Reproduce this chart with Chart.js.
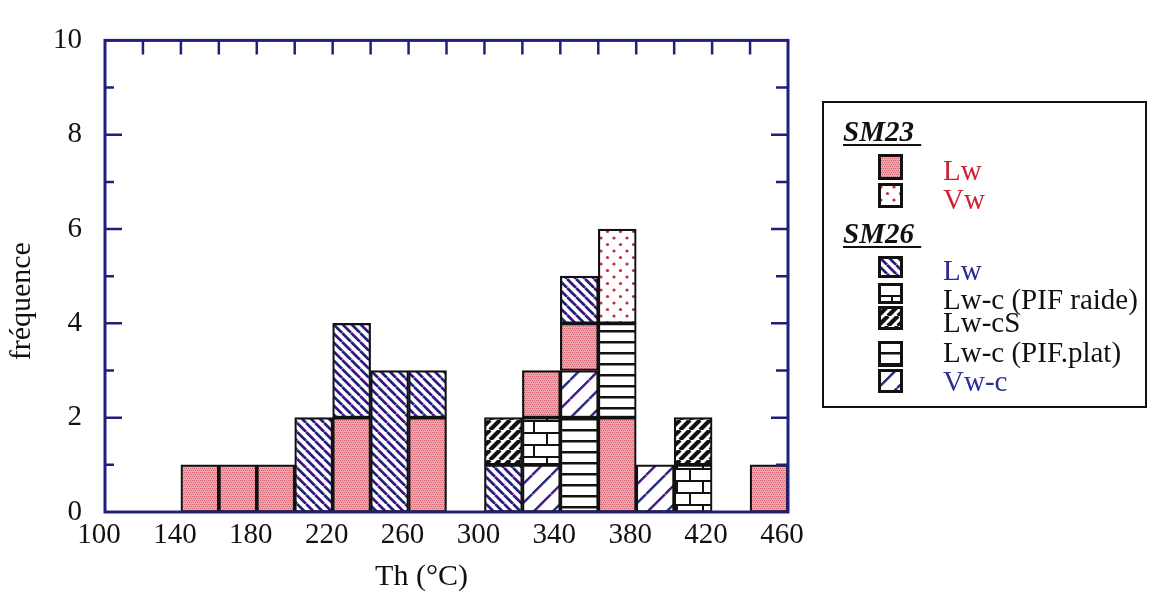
<!DOCTYPE html>
<html>
<head>
<meta charset="utf-8">
<script src="https://cdn.jsdelivr.net/npm/chart.js@4.4.1/dist/chart.umd.min.js"></script>
<style>
html,body{margin:0;padding:0;background:#fff;}
#wrap{position:relative;width:1154px;height:594px;}
#legend{position:absolute;left:822px;top:101px;width:321px;height:303px;border:2px solid #111;
  font-family:"Liberation Serif","Times New Roman",serif;font-size:29px;color:#111;}
.t{position:absolute;white-space:nowrap;line-height:32px;height:32px;}
.h{font-weight:bold;font-style:italic;text-decoration:underline;text-decoration-thickness:2px;text-underline-offset:3px;}
.sw{position:absolute;display:block;}
</style>
</head>
<body>
<div id="wrap">
  <canvas id="c"></canvas>
  <div id="legend"></div>
</div>
<script>
// ---- data ----
const binStarts = [100,120,140,160,180,200,220,240,260,280,300,320,340,360,380,400,420,440];
const sm23Lw      = [0,0,1,1,1,0,2,0,2,0,0,1,1,2,0,0,0,1];
const sm23Vw      = [0,0,0,0,0,0,0,0,0,0,0,0,0,2,0,0,0,0];
const sm26Lw      = [0,0,0,0,0,2,2,3,1,0,1,0,1,0,0,0,0,0];
const sm26LwcRaide= [0,0,0,0,0,0,0,0,0,0,0,1,0,0,0,1,0,0];
const sm26LwcS    = [0,0,0,0,0,0,0,0,0,0,1,0,0,0,0,1,0,0];
const sm26LwcPlat = [0,0,0,0,0,0,0,0,0,0,0,0,2,2,0,0,0,0];
const sm26Vwc     = [0,0,0,0,0,0,0,0,0,0,0,1,1,0,1,0,0,0];
// stacking order in each bin, bottom to top (as drawn in the figure)
const stackOrder = [
  [],[],['sm23Lw'],['sm23Lw'],['sm23Lw'],['sm26Lw'],['sm23Lw','sm26Lw'],['sm26Lw'],
  ['sm23Lw','sm26Lw'],[],['sm26Lw','lwcS'],['vwc','lwcRaide','sm23Lw'],
  ['lwcPlat','vwc','sm23Lw','sm26Lw'],['sm23Lw','lwcPlat','sm23Vw'],['vwc'],
  ['lwcRaide','lwcS'],[],['sm23Lw']
];
const xTickValues = [100,140,180,220,260,300,340,380,420,460];
const xTopTicks   = [120,140,160,180,200,220,240,260,280,300,320,340,360,380,400,420,440];
const yTickValues = [0,2,4,6,8,10];
const yMajorInner = [2,4,6,8];
const yMinorInner = [1,3,5,7,9];
const xTitle = 'Th (°C)';
const yTitle = 'fréquence';

const series = {sm23Lw, sm23Vw, sm26Lw, lwcRaide: sm26LwcRaide, lwcS: sm26LwcS, lwcPlat: sm26LwcPlat, vwc: sm26Vwc};

// ---- patterns ----
const NAVY = '#20207c';
const MAG = '#c76ad0';
function tile(w, h, draw){
  const c = document.createElement('canvas'); c.width = w; c.height = h;
  const g = c.getContext('2d'); g.fillStyle = '#fff'; g.fillRect(0,0,w,h); draw(g,w,h);
  return c;
}
function diag(g, s, dir, color, lw, off){
  g.strokeStyle = color; g.lineWidth = lw; g.beginPath();
  for (let k=-2;k<=2;k++){
    if (dir === '\\'){ g.moveTo(k*s+off, 0); g.lineTo(k*s+s+off, s); }
    else { g.moveTo(k*s+off, s); g.lineTo(k*s+s+off, 0); }
  }
  g.stroke();
}
const tiles = {
  sm23Lw: tile(4,4,(g)=>{ g.fillStyle='#eea6b0'; g.fillRect(0,0,4,4); g.fillStyle='#d4606f';
    g.fillRect(0,0,1,1); g.fillRect(2,0,1,1); g.fillRect(1,2,1,1); g.fillRect(3,2,1,1); }),
  sm23Vw: tile(13,13,(g)=>{ g.fillStyle='#c42a40'; g.beginPath(); g.arc(3,4,1.6,0,7); g.fill();
    g.beginPath(); g.arc(9.5,10.5,1.6,0,7); g.fill(); }),
  sm26Lw: tile(9,9,(g,s)=>{ diag(g,9,'\\',MAG,1,2); diag(g,9,'\\',NAVY,2.4,0); }),
  lwcRaide: tile(26,24,(g)=>{ g.fillStyle='#111'; g.fillRect(0,0,26,2); g.fillRect(0,12,26,2);
    g.fillRect(0,0,2,12); g.fillRect(13,12,2,12); }),
  lwcS: tile(10,10,(g)=>{ diag(g,10,'/','#111',4.2,0); }),
  lwcPlat: tile(4,11,(g)=>{ g.fillStyle='#111'; g.fillRect(0,0,4,2.5); }),
  vwc: tile(19,19,(g)=>{ diag(g,19,'/',MAG,1,1.8); diag(g,19,'/',NAVY,2,0); })
};
function pat(ctx, key){ return ctx.createPattern(tiles[key], 'repeat'); }

// ---- chart ----
const canvas = document.getElementById('c');
const ctx0 = canvas.getContext('2d');
const nLayers = Math.max(...stackOrder.map(s=>s.length));
const datasets = [];
for (let k=0;k<nLayers;k++){
  datasets.push({
    data: binStarts.map((b,i)=>({x: b+10, y: stackOrder[i][k] ? series[stackOrder[i][k]][i] : null})),
    backgroundColor: binStarts.map((b,i)=> stackOrder[i][k] ? pat(ctx0, stackOrder[i][k]) : 'rgba(0,0,0,0)'),
    borderColor: '#111',
    borderWidth: 2.2,
    borderSkipped: false,
    barPercentage: 1,
    categoryPercentage: 1
  });
}

Chart.defaults.font.family = '"Liberation Serif","Times New Roman",serif';
Chart.defaults.font.size = 29;
Chart.defaults.color = '#111';

const framePlugin = {
  id: 'frame',
  afterDatasetsDraw(chart){
    const {ctx, chartArea:a, scales:{x,y}} = chart;
    ctx.save();
    ctx.strokeStyle = NAVY; ctx.lineWidth = 2.5; ctx.lineCap = 'butt';
    ctx.beginPath();
    xTopTicks.forEach(v=>{ const p = x.getPixelForValue(v); ctx.moveTo(p,a.top); ctx.lineTo(p,a.top+14); });
    yMajorInner.forEach(v=>{ const p = y.getPixelForValue(v);
      ctx.moveTo(a.left,p); ctx.lineTo(a.left+17,p); ctx.moveTo(a.right,p); ctx.lineTo(a.right-17,p); });
    yMinorInner.forEach(v=>{ const p = y.getPixelForValue(v);
      ctx.moveTo(a.left,p); ctx.lineTo(a.left+9,p); ctx.moveTo(a.right,p); ctx.lineTo(a.right-12,p); });
    ctx.stroke();
    ctx.lineWidth = 3;
    ctx.strokeRect(a.left, a.top, a.right-a.left, a.bottom-a.top);
    // axis titles
    ctx.fillStyle = '#111';
    ctx.font = '30px "Liberation Serif","Times New Roman",serif';
    ctx.textAlign = 'center'; ctx.textBaseline = 'middle';
    ctx.fillText(xTitle, (a.left+a.right)/2 - 25, a.bottom + 65);
    ctx.translate(22, (a.top+a.bottom)/2 + 25);
    ctx.rotate(-Math.PI/2);
    ctx.fillText(yTitle, 0, 0);
    ctx.restore();
  }
};

new Chart(canvas, {
  type: 'bar',
  data: { datasets },
  options: {
    responsive: true, maintainAspectRatio: false, animation: false,
    layout: { padding: { left: 0, top: 27, right: 366, bottom: 0 } },
    plugins: { legend: { display: false }, tooltip: { enabled: false } },
    scales: {
      x: {
        type: 'linear', stacked: true, min: 100, max: 460, offset: false,
        grid: { display: false, drawTicks: false }, border: { display: false },
        afterBuildTicks: s => { s.ticks = xTickValues.map(v=>({value:v})); },
        ticks: { padding: 6, labelOffset: -6, maxRotation: 0, autoSkip: false, color: '#111' },
        afterFit: s => { s.height = 82; }
      },
      y: {
        stacked: true, min: 0, max: 10,
        grid: { display: false, drawTicks: false }, border: { display: false },
        afterBuildTicks: s => { s.ticks = yTickValues.map(v=>({value:v})); },
        ticks: { padding: 23, color: '#111' },
        afterFit: s => { s.width = 105; }
      }
    }
  },
  plugins: [framePlugin]
});

// ---- legend (HTML) ----
const legend = document.getElementById('legend');
const legendRows = [
  {text:'SM23\u00a0', cls:'h', top:12, left:19},
  {text:'Lw', color:'#cc2233', top:51, left:119, sw:'sm23Lw', st:51, sh:26},
  {text:'Vw', color:'#cc2233', top:80, left:119, sw:'sm23Vw', st:80, sh:25},
  {text:'SM26\u00a0', cls:'h', top:114, left:19},
  {text:'Lw', color:'#2a2a8c', top:151, left:119, sw:'sm26Lw', st:153, sh:22},
  {text:'Lw-c (PIF raide)', top:180, left:119, sw:'lwcRaide', st:180, sh:21},
  {text:'Lw-cS', top:203, left:119, sw:'lwcS', st:203, sh:24},
  {text:'Lw-c (PIF.plat)', top:233, left:119, sw:'lwcPlat', st:238, sh:26},
  {text:'Vw-c', color:'#2a3196', top:262, left:119, sw:'vwc', st:266, sh:24}
];
legendRows.forEach(r=>{
  const d = document.createElement('div');
  d.className = 't' + (r.cls ? ' ' + r.cls : '');
  d.textContent = r.text;
  d.style.top = r.top + 'px'; d.style.left = r.left + 'px';
  if (r.color) d.style.color = r.color;
  legend.appendChild(d);
  if (r.sw){
    const c = document.createElement('canvas');
    c.className = 'sw'; c.width = 25; c.height = r.sh;
    c.style.left = '54px'; c.style.top = r.st + 'px';
    const g = c.getContext('2d');
    g.fillStyle = pat(g, r.sw); g.fillRect(0,0,25,r.sh);
    g.strokeStyle = '#111'; g.lineWidth = 3; g.strokeRect(1.5,1.5,22,r.sh-3);
    legend.appendChild(c);
  }
});
</script>
</body>
</html>
